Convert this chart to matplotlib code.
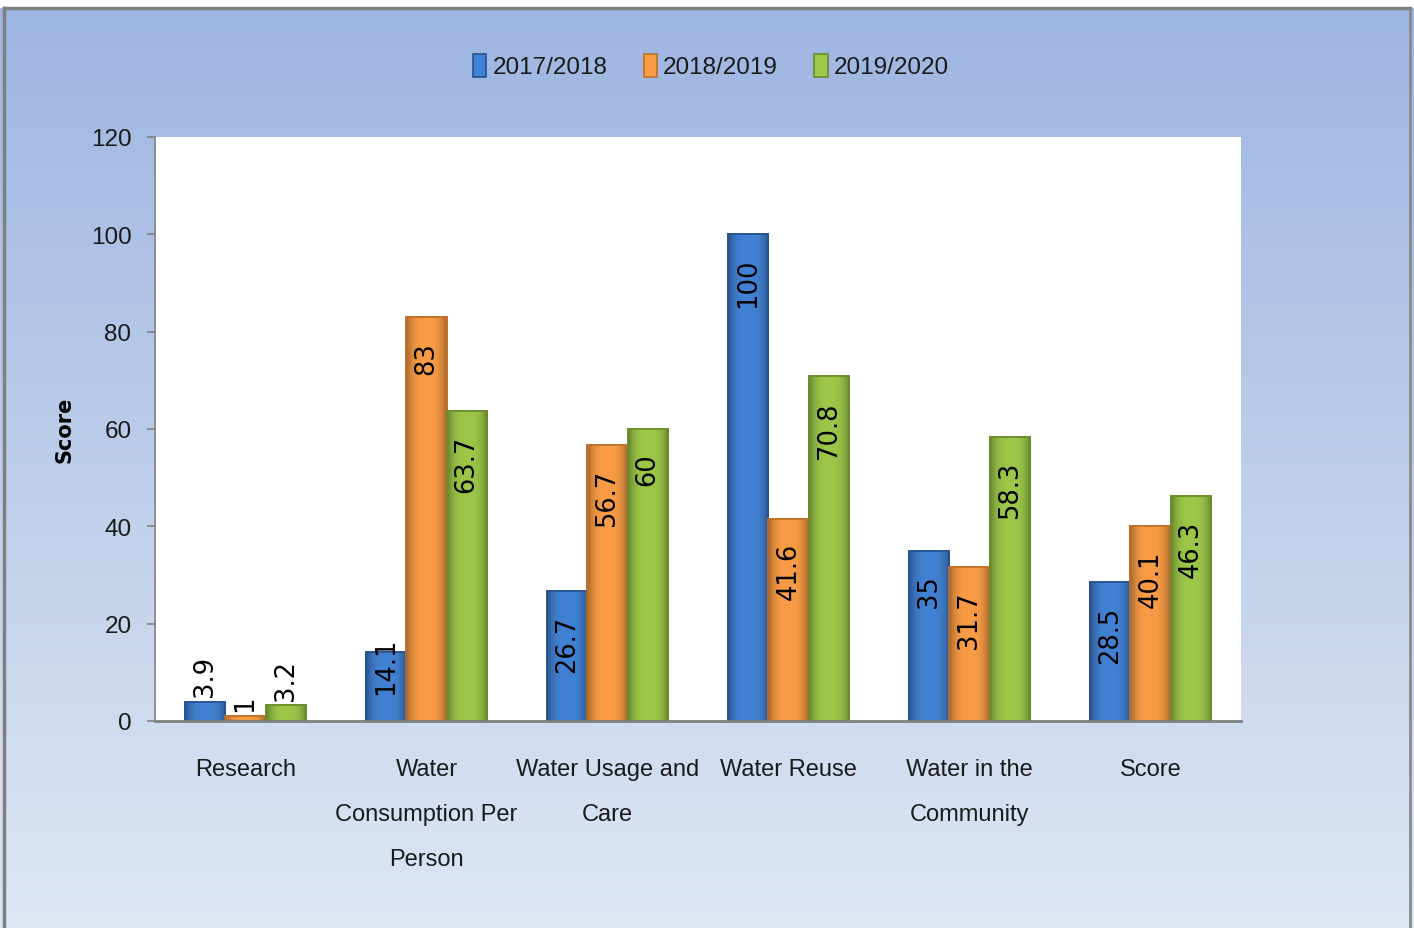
import matplotlib
matplotlib.use("Agg")
import matplotlib.pyplot as plt
import numpy as np
from matplotlib.colors import to_rgb
from matplotlib.patches import Rectangle

plt.rcParams["font.family"] = ["Liberation Sans", "DejaVu Sans"]

categories = ["Research", "Water\nConsumption Per\nPerson", "Water Usage and\nCare",
              "Water Reuse", "Water in the\nCommunity", "Score"]
series_names = ["2017/2018", "2018/2019", "2019/2020"]
values_1718 = [3.9, 14.1, 26.7, 100, 35, 28.5]
values_1819 = [1, 83, 56.7, 41.6, 31.7, 40.1]
values_1920 = [3.2, 63.7, 60, 70.8, 58.3, 46.3]
value_labels = [
    ["3.9", "14.1", "26.7", "100", "35", "28.5"],
    ["1", "83", "56.7", "41.6", "31.7", "40.1"],
    ["3.2", "63.7", "60", "70.8", "58.3", "46.3"],
]

fills = ["#4282d4", "#f99c45", "#9cc748"]
edges = ["#25528f", "#c06f25", "#6a8c2a"]

fig = plt.figure(figsize=(14.14, 9.29), dpi=100)

# background gradient + outer frame
bg = fig.add_axes([0, 0, 1, 1], zorder=-10)
grad = np.linspace(0, 1, 256).reshape(-1, 1)
top = np.array([156, 181, 225]) / 255
bot = np.array([222, 230, 244]) / 255
img = top + (bot - top) * grad[:, :, None]
bg.imshow(img, aspect="auto", extent=[0, 1, 0, 1], origin="upper")
bg.add_patch(Rectangle((0, 1 - 8 / 929), 1, 8 / 929, transform=bg.transAxes, color="white"))
bg.plot([4 / 1414, 4 / 1414], [0, 1 - 9 / 929], color="#7f7f7f", lw=2.5)
bg.plot([1410 / 1414, 1410 / 1414], [0, 1 - 9 / 929], color="#8a8a8a", lw=2)
bg.plot([4 / 1414, 1410 / 1414], [1 - 9 / 929, 1 - 9 / 929], color="#7f7f7f", lw=2.5)
bg.set_xlim(0, 1)
bg.set_ylim(0, 1)
bg.axis("off")

ax = fig.add_axes([155 / 1414, 1 - 722 / 929, (1241 - 155) / 1414, (722 - 138) / 929])
ax.set_facecolor("white")

# horizontal shading profile for the bevelled look
t = np.linspace(0, 1, 64)
shade = 1 - 0.35 * np.abs(2 * t - 1) ** 3

x = np.arange(len(categories))
width = 0.222
all_values = [values_1718, values_1819, values_1920]
for i, vals in enumerate(all_values):
    pos = x + (i - 1) * width
    bars = ax.bar(pos, vals, width, color=fills[i], edgecolor=edges[i], linewidth=1.2,
                  label=series_names[i], zorder=2)
    base = np.array(to_rgb(fills[i]))
    tex = np.clip(base[None, None, :] * shade[None, :, None], 0, 1)
    for bar in bars:
        bx, bw, bh = bar.get_x(), bar.get_width(), bar.get_height()
        im = ax.imshow(tex, extent=[bx, bx + bw, 0, bh], aspect="auto", zorder=2.1,
                       interpolation="bilinear")
        im.set_clip_path(bar)
        ax.add_patch(Rectangle((bx, 0), bw, bh, fill=False, edgecolor=edges[i],
                               linewidth=1.2, zorder=2.2))
    for p, v, lab in zip(pos, vals, value_labels[i]):
        if v < 5:
            off, va = (0, 4), "bottom"
        elif v < 20:
            off, va = (0, -9), "center"
        else:
            off, va = (0, -17), "top"
        ax.annotate(lab, (p, v), xytext=off, textcoords="offset points",
                    rotation=90, ha="center", va=va, fontsize=18.5,
                    family="DejaVu Sans", color="black", zorder=3)

ax.set_xlim(-0.5, len(categories) - 0.5)
ax.set_ylim(0, 120)
ax.set_yticks(range(0, 121, 20))
ax.set_xticks(x)
ax.set_xticklabels(categories, fontsize=17, linespacing=2.35, color="#1a1a1a")
ax.tick_params(axis="x", length=0, pad=27)
ax.tick_params(axis="y", labelsize=17.5, length=6, width=1.2, color="#808080",
               labelcolor="#1a1a1a", pad=11)
for s in ["top", "right"]:
    ax.spines[s].set_visible(False)
ax.spines["left"].set_color("#808080")
ax.spines["left"].set_linewidth(1.2)
ax.spines["bottom"].set_color("#808080")
ax.spines["bottom"].set_linewidth(2)
ax.spines["bottom"].set_zorder(4)

ax.set_ylabel("Score", fontsize=15, fontweight="bold", family="DejaVu Sans")
ax.yaxis.set_label_coords((75 - 155) / 1086, 0.5)

handles, labels = ax.get_legend_handles_labels()
fig.legend(handles, labels, loc="center", bbox_to_anchor=(711 / 1414, 1 - 67 / 929),
           ncol=3, frameon=False, fontsize=17.5, handlelength=0.55, handleheight=1.1,
           handletextpad=0.25, columnspacing=1.5, labelcolor="#1a1a1a")

fig.savefig("out.png", dpi=100)
